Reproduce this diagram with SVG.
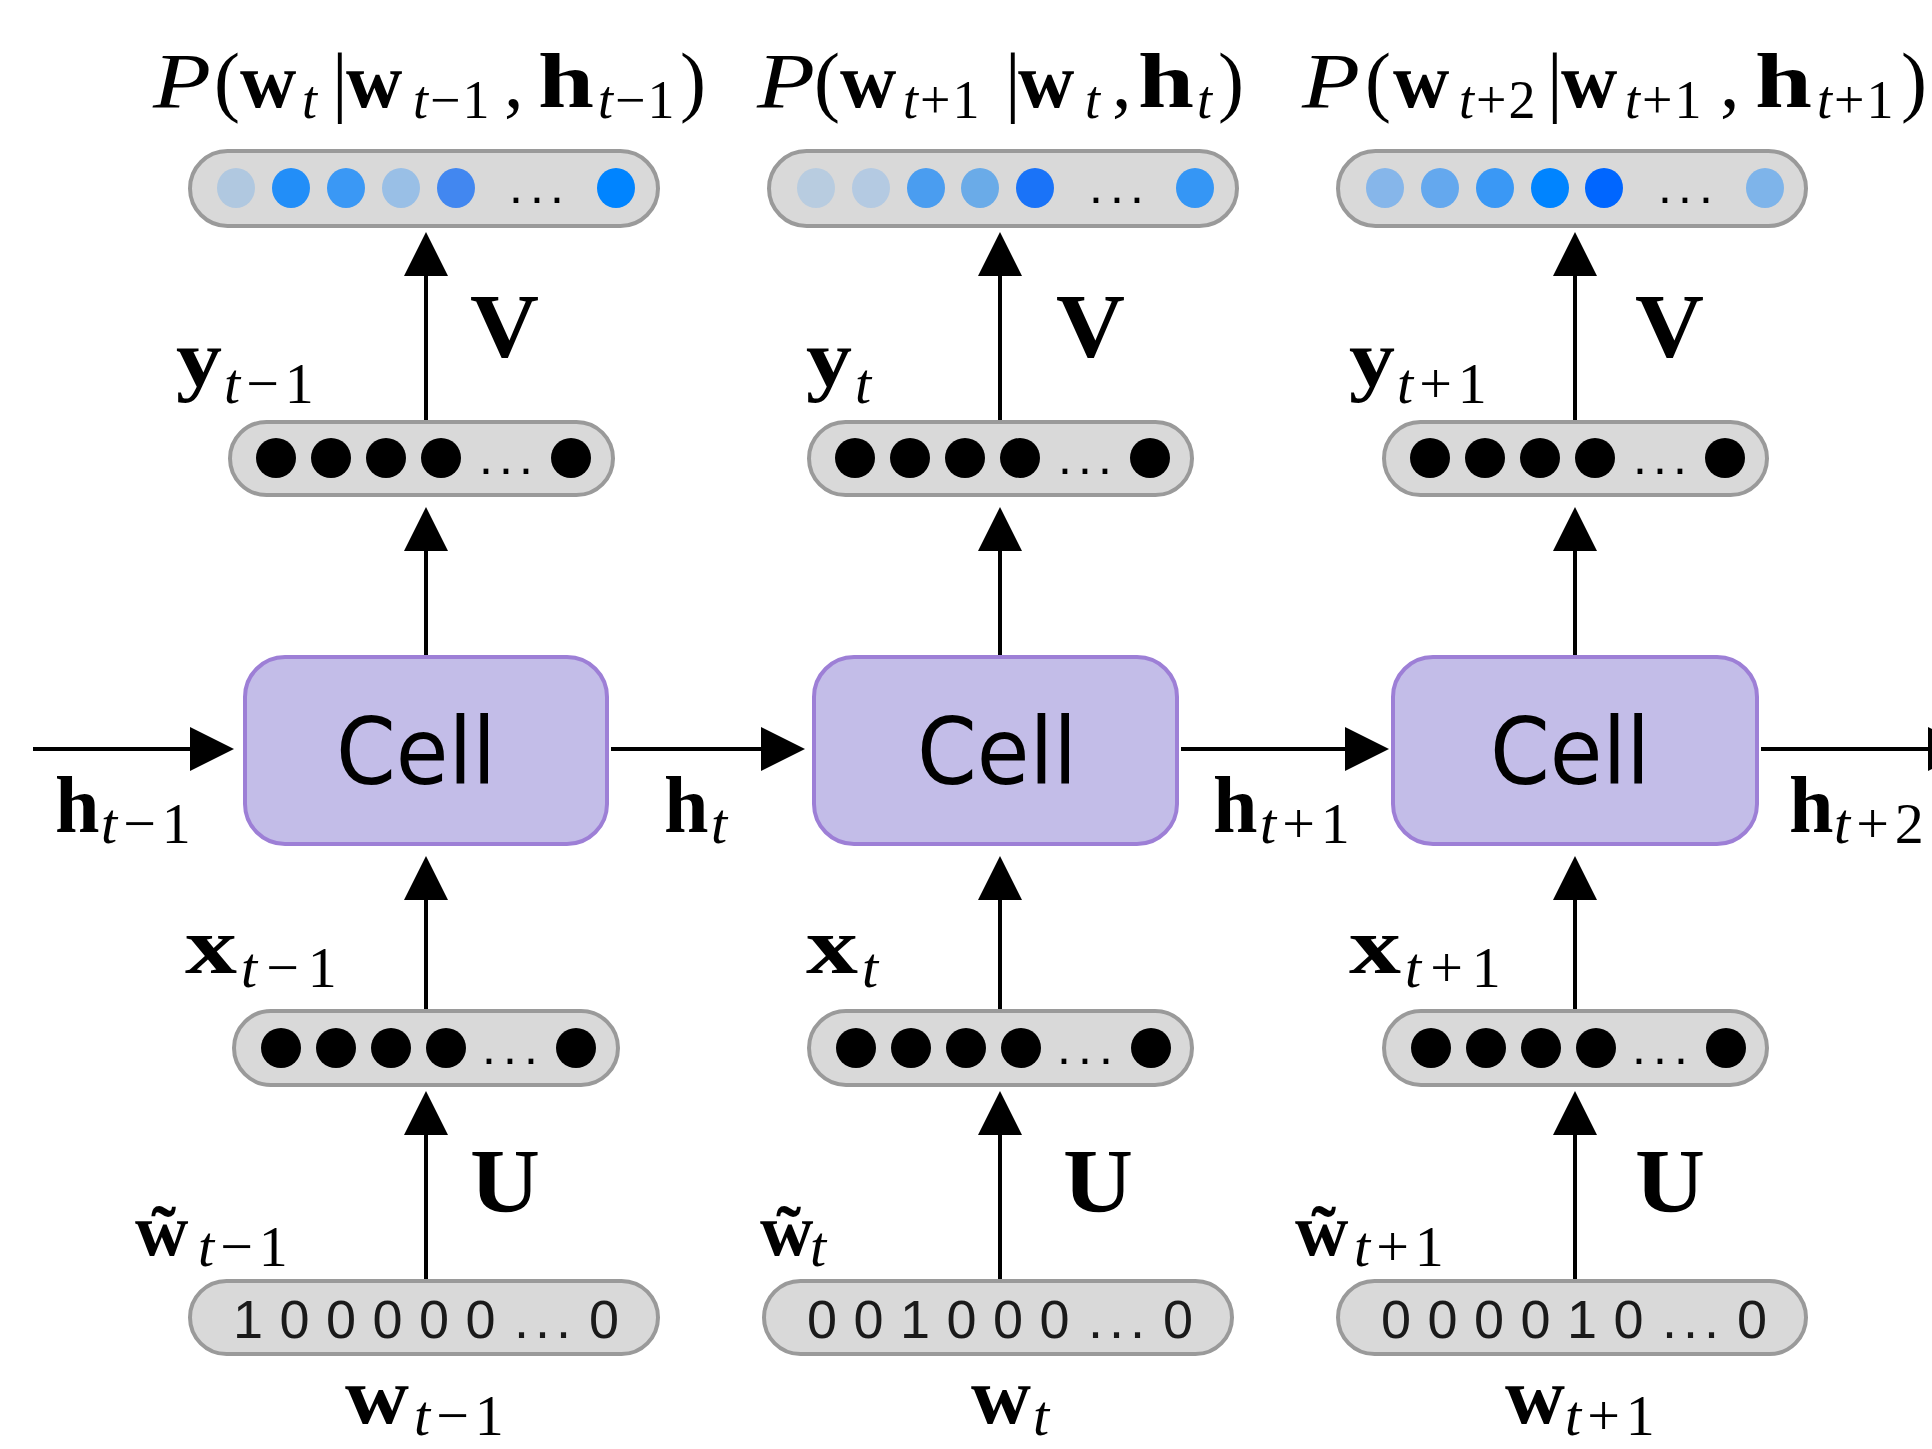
<svg xmlns="http://www.w3.org/2000/svg" width="1932" height="1449" viewBox="0 0 1932 1449">
<style>
.pill{fill:#d9d9d9;stroke:#9a9a9a;stroke-width:4}
.cell{fill:#c3bde8;stroke:#9d7fd6;stroke-width:4}
.cl{font-family:"DejaVu Sans Condensed","DejaVu Sans",sans-serif;font-size:92px;fill:#000}
.m{font-family:"Liberation Serif","Times New Roman",serif;fill:#000}
.T{font-size:78px}
.L{font-size:80px;font-weight:bold}
.W{font-size:74px;font-weight:bold}
.G{font-size:90px;font-weight:bold}
.b{font-weight:bold}
.i{font-style:italic}
.S{font-size:54px;letter-spacing:2px;font-weight:normal}
.s{font-family:"Liberation Serif","Times New Roman",serif;fill:#000;font-size:58px;letter-spacing:6px}
.sx{letter-spacing:9px}
.dd{font-family:"Liberation Sans",Arial,sans-serif;font-size:50px;fill:#000}
.dg{font-family:"Liberation Sans",Arial,sans-serif;font-size:54px;fill:#1a1a1a}
.k{fill:#000}
.ln{stroke:#000;stroke-width:4;fill:none}
</style>
<defs>
<marker id="ah" markerUnits="userSpaceOnUse" markerWidth="46" markerHeight="46" refX="0" refY="22" orient="auto" overflow="visible">
<path d="M0,0 L44,22 L0,44 Z" fill="#000"/>
</marker>
</defs>

<g id="connectors">
<line class="ln" x1="426" y1="1281" x2="426" y2="1135" marker-end="url(#ah)"/>
<line class="ln" x1="426" y1="1011" x2="426" y2="900" marker-end="url(#ah)"/>
<line class="ln" x1="426" y1="657" x2="426" y2="551" marker-end="url(#ah)"/>
<line class="ln" x1="426" y1="422" x2="426" y2="276" marker-end="url(#ah)"/>
<line class="ln" x1="1000" y1="1281" x2="1000" y2="1135" marker-end="url(#ah)"/>
<line class="ln" x1="1000" y1="1011" x2="1000" y2="900" marker-end="url(#ah)"/>
<line class="ln" x1="1000" y1="657" x2="1000" y2="551" marker-end="url(#ah)"/>
<line class="ln" x1="1000" y1="422" x2="1000" y2="276" marker-end="url(#ah)"/>
<line class="ln" x1="1575" y1="1281" x2="1575" y2="1135" marker-end="url(#ah)"/>
<line class="ln" x1="1575" y1="1011" x2="1575" y2="900" marker-end="url(#ah)"/>
<line class="ln" x1="1575" y1="657" x2="1575" y2="551" marker-end="url(#ah)"/>
<line class="ln" x1="1575" y1="422" x2="1575" y2="276" marker-end="url(#ah)"/>
<line class="ln" x1="33" y1="749" x2="190" y2="749" marker-end="url(#ah)"/>
<line class="ln" x1="611" y1="749" x2="761" y2="749" marker-end="url(#ah)"/>
<line class="ln" x1="1181" y1="749" x2="1345" y2="749" marker-end="url(#ah)"/>
<line class="ln" x1="1761" y1="749" x2="1928" y2="749" marker-end="url(#ah)"/>
</g>

<g id="prob1">
<rect class="pill" x="190" y="151" width="468" height="75" rx="37.5"/>
<ellipse cx="236" cy="188" rx="19" ry="20" fill="#b0c8e0"/>
<ellipse cx="291" cy="188" rx="19" ry="20" fill="#228ef8"/>
<ellipse cx="346" cy="188" rx="19" ry="20" fill="#3a98f5"/>
<ellipse cx="401" cy="188" rx="19" ry="20" fill="#99bfe6"/>
<ellipse cx="456" cy="188" rx="19" ry="20" fill="#4287f0"/>
<text class="dd" y="203" x="516 537 557" text-anchor="middle">...</text>
<ellipse cx="616" cy="188" rx="19" ry="20" fill="#0084ff"/>
</g>
<g id="prob2">
<rect class="pill" x="769" y="151" width="468" height="75" rx="37.5"/>
<ellipse cx="816" cy="188" rx="19" ry="20" fill="#b8cce0"/>
<ellipse cx="871" cy="188" rx="19" ry="20" fill="#b4cae2"/>
<ellipse cx="926" cy="188" rx="19" ry="20" fill="#4a9df0"/>
<ellipse cx="980" cy="188" rx="19" ry="20" fill="#6aabe8"/>
<ellipse cx="1035" cy="188" rx="19" ry="20" fill="#1a73f8"/>
<text class="dd" y="203" x="1096 1117 1137" text-anchor="middle">...</text>
<ellipse cx="1195" cy="188" rx="19" ry="20" fill="#3596f5"/>
</g>
<g id="prob3">
<rect class="pill" x="1338" y="151" width="468" height="75" rx="37.5"/>
<ellipse cx="1385" cy="188" rx="19" ry="20" fill="#86b6ea"/>
<ellipse cx="1440" cy="188" rx="19" ry="20" fill="#64a8ee"/>
<ellipse cx="1495" cy="188" rx="19" ry="20" fill="#3a98f5"/>
<ellipse cx="1550" cy="188" rx="19" ry="20" fill="#0084ff"/>
<ellipse cx="1604" cy="188" rx="19" ry="20" fill="#0066ff"/>
<text class="dd" y="203" x="1665 1685 1706" text-anchor="middle">...</text>
<ellipse cx="1765" cy="188" rx="19" ry="20" fill="#7eb4ea"/>
</g>

<g id="title1">
<text class="m T" y="107"><tspan x="153" class="i" textLength="58" lengthAdjust="spacingAndGlyphs">P</tspan><tspan x="214">(</tspan><tspan x="240" class="b">w</tspan><tspan x="302" y="118" class="S"><tspan class="i">t</tspan></tspan><tspan x="332" y="107">|</tspan><tspan x="346" class="b">w</tspan><tspan x="413" y="118" class="S"><tspan class="i">t</tspan>−1</tspan><tspan x="504" y="107">,</tspan><tspan x="538" class="b" textLength="56" lengthAdjust="spacingAndGlyphs">h</tspan><tspan x="598" y="118" class="S"><tspan class="i">t</tspan>−1</tspan><tspan x="680" y="107">)</tspan></text>
</g>
<g id="title2">
<text class="m T" y="107"><tspan x="757" class="i" textLength="58" lengthAdjust="spacingAndGlyphs">P</tspan><tspan x="814">(</tspan><tspan x="840" class="b">w</tspan><tspan x="903" y="118" class="S"><tspan class="i">t</tspan>+1</tspan><tspan x="1005" y="107">|</tspan><tspan x="1018" class="b">w</tspan><tspan x="1085" y="118" class="S"><tspan class="i">t</tspan></tspan><tspan x="1112" y="107">,</tspan><tspan x="1138" class="b" textLength="56" lengthAdjust="spacingAndGlyphs">h</tspan><tspan x="1197" y="118" class="S"><tspan class="i">t</tspan></tspan><tspan x="1218" y="107">)</tspan></text>
</g>
<g id="title3">
<text class="m T" y="107"><tspan x="1302" class="i" textLength="58" lengthAdjust="spacingAndGlyphs">P</tspan><tspan x="1365">(</tspan><tspan x="1393" class="b">w</tspan><tspan x="1459" y="118" class="S"><tspan class="i">t</tspan>+2</tspan><tspan x="1547" y="107">|</tspan><tspan x="1561" class="b">w</tspan><tspan x="1625" y="118" class="S"><tspan class="i">t</tspan>+1</tspan><tspan x="1720" y="107">,</tspan><tspan x="1755" class="b" textLength="57" lengthAdjust="spacingAndGlyphs">h</tspan><tspan x="1817" y="118" class="S"><tspan class="i">t</tspan>+1</tspan><tspan x="1901" y="107">)</tspan></text>
</g>

<g id="y1">
<rect class="pill" x="230" y="422" width="383" height="73" rx="36.5"/>
<circle class="k" cx="276" cy="458" r="20"/><circle class="k" cx="331" cy="458" r="20"/><circle class="k" cx="386" cy="458" r="20"/><circle class="k" cx="441" cy="458" r="20"/>
<text class="dd" y="474" x="486 506 526" text-anchor="middle">...</text>
<circle class="k" cx="571" cy="458" r="20"/>
</g>
<g id="y2">
<rect class="pill" x="809" y="422" width="383" height="73" rx="36.5"/>
<circle class="k" cx="855" cy="458" r="20"/><circle class="k" cx="910" cy="458" r="20"/><circle class="k" cx="965" cy="458" r="20"/><circle class="k" cx="1020" cy="458" r="20"/>
<text class="dd" y="474" x="1065 1085 1105" text-anchor="middle">...</text>
<circle class="k" cx="1150" cy="458" r="20"/>
</g>
<g id="y3">
<rect class="pill" x="1384" y="422" width="383" height="73" rx="36.5"/>
<circle class="k" cx="1430" cy="458" r="20"/><circle class="k" cx="1485" cy="458" r="20"/><circle class="k" cx="1540" cy="458" r="20"/><circle class="k" cx="1595" cy="458" r="20"/>
<text class="dd" y="474" x="1640 1660 1680" text-anchor="middle">...</text>
<circle class="k" cx="1725" cy="458" r="20"/>
</g>

<g id="cell1">
<rect class="cell" x="245" y="657" width="362" height="187" rx="40"/>
<text class="cl" x="416" y="784" text-anchor="middle" textLength="160" lengthAdjust="spacingAndGlyphs">Cell</text>
</g>
<g id="cell2">
<rect class="cell" x="814" y="657" width="363" height="187" rx="40"/>
<text class="cl" x="997" y="784" text-anchor="middle" textLength="160" lengthAdjust="spacingAndGlyphs">Cell</text>
</g>
<g id="cell3">
<rect class="cell" x="1393" y="657" width="364" height="187" rx="40"/>
<text class="cl" x="1570" y="784" text-anchor="middle" textLength="160" lengthAdjust="spacingAndGlyphs">Cell</text>
</g>

<g id="x1">
<rect class="pill" x="234" y="1011" width="384" height="74" rx="37"/>
<circle class="k" cx="281" cy="1048" r="20"/><circle class="k" cx="336" cy="1048" r="20"/><circle class="k" cx="391" cy="1048" r="20"/><circle class="k" cx="446" cy="1048" r="20"/>
<text class="dd" y="1064" x="489 510 531" text-anchor="middle">...</text>
<circle class="k" cx="576" cy="1048" r="20"/>
</g>
<g id="x2">
<rect class="pill" x="809" y="1011" width="383" height="74" rx="37"/>
<circle class="k" cx="856" cy="1048" r="20"/><circle class="k" cx="911" cy="1048" r="20"/><circle class="k" cx="966" cy="1048" r="20"/><circle class="k" cx="1021" cy="1048" r="20"/>
<text class="dd" y="1064" x="1064 1085 1106" text-anchor="middle">...</text>
<circle class="k" cx="1151" cy="1048" r="20"/>
</g>
<g id="x3">
<rect class="pill" x="1384" y="1011" width="383" height="74" rx="37"/>
<circle class="k" cx="1431" cy="1048" r="20"/><circle class="k" cx="1486" cy="1048" r="20"/><circle class="k" cx="1541" cy="1048" r="20"/><circle class="k" cx="1596" cy="1048" r="20"/>
<text class="dd" y="1064" x="1639 1660 1681" text-anchor="middle">...</text>
<circle class="k" cx="1726" cy="1048" r="20"/>
</g>

<g id="onehot1">
<rect class="pill" x="190" y="1281" width="468" height="73" rx="36.5"/>
<text class="dg" y="1338" x="248 294.5 341 387.5 434 480.5 521.5 542.5 563.5 604" text-anchor="middle">100000...0</text>
</g>
<g id="onehot2">
<rect class="pill" x="764" y="1281" width="468" height="73" rx="36.5"/>
<text class="dg" y="1338" x="822 868.5 915 961.5 1008 1054.5 1095.5 1116.5 1137.5 1178" text-anchor="middle">001000...0</text>
</g>
<g id="onehot3">
<rect class="pill" x="1338" y="1281" width="468" height="73" rx="36.5"/>
<text class="dg" y="1338" x="1396 1442.5 1489 1535.5 1582 1628.5 1669.5 1690.5 1711.5 1752" text-anchor="middle">000010...0</text>
</g>

<g id="labels">
<text class="m L" x="176" y="386" textLength="46" lengthAdjust="spacingAndGlyphs">y</text><text class="s" x="224" y="403"><tspan class="i">t</tspan>−1</text>
<text class="m L" x="806" y="386" textLength="46" lengthAdjust="spacingAndGlyphs">y</text><text class="s i" x="855" y="403">t</text>
<text class="m L" x="1349" y="386" textLength="46" lengthAdjust="spacingAndGlyphs">y</text><text class="s" x="1397" y="403"><tspan class="i">t</tspan>+1</text>

<text class="m G" x="470" y="357" textLength="69" lengthAdjust="spacingAndGlyphs">V</text>
<text class="m G" x="1056" y="357" textLength="69" lengthAdjust="spacingAndGlyphs">V</text>
<text class="m G" x="1635" y="357" textLength="69" lengthAdjust="spacingAndGlyphs">V</text>

<text class="m L" x="55" y="832">h</text><text class="s" x="101" y="843"><tspan class="i">t</tspan>−1</text>
<text class="m L" x="664" y="832">h</text><text class="s i" x="711" y="843">t</text>
<text class="m L" x="1213" y="832">h</text><text class="s" x="1260" y="843"><tspan class="i">t</tspan>+1</text>
<text class="m L" x="1789" y="832">h</text><text class="s" x="1834" y="843"><tspan class="i">t</tspan>+2</text>

<text class="m L" x="185" y="973" textLength="52" lengthAdjust="spacingAndGlyphs">x</text><text class="s sx" x="241" y="987"><tspan class="i">t</tspan>−1</text>
<text class="m L" x="806" y="973" textLength="52" lengthAdjust="spacingAndGlyphs">x</text><text class="s i" x="862" y="987">t</text>
<text class="m L" x="1349" y="973" textLength="52" lengthAdjust="spacingAndGlyphs">x</text><text class="s sx" x="1405" y="987"><tspan class="i">t</tspan>+1</text>

<text class="m G" x="470" y="1212" textLength="70" lengthAdjust="spacingAndGlyphs">U</text>
<text class="m G" x="1063" y="1212" textLength="70" lengthAdjust="spacingAndGlyphs">U</text>
<text class="m G" x="1635" y="1212" textLength="70" lengthAdjust="spacingAndGlyphs">U</text>

<text class="m W" x="135" y="1255">w&#x303;</text><text class="s" x="198" y="1266"><tspan class="i">t</tspan>−1</text>
<text class="m W" x="760" y="1255">w&#x303;</text><text class="s i" x="810" y="1266">t</text>
<text class="m W" x="1295" y="1255">w&#x303;</text><text class="s" x="1354" y="1266"><tspan class="i">t</tspan>+1</text>

<text class="m L" x="345" y="1423" textLength="64" lengthAdjust="spacingAndGlyphs">w</text><text class="s" x="414" y="1435"><tspan class="i">t</tspan>−1</text>
<text class="m L" x="971" y="1423" textLength="60" lengthAdjust="spacingAndGlyphs">w</text><text class="s i" x="1033" y="1435">t</text>
<text class="m L" x="1505" y="1423" textLength="60" lengthAdjust="spacingAndGlyphs">w</text><text class="s" x="1565" y="1435"><tspan class="i">t</tspan>+1</text>
</g>
</svg>
